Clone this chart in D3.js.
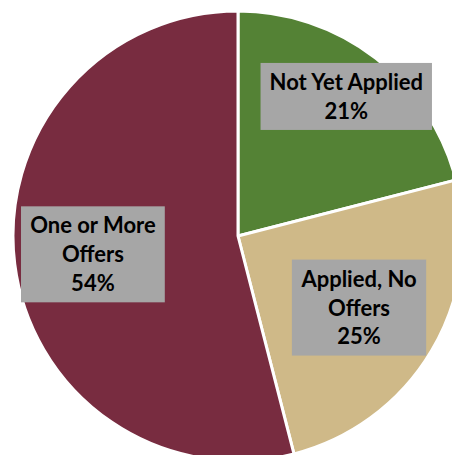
<!DOCTYPE html>
<html>
<head>
<meta charset="utf-8">
<script src="https://cdn.jsdelivr.net/npm/d3@7"></script>
<style>
  body { margin: 0; background: #fff; }
  svg { display: block; }
  .lbl text { font-family: Lato, "Open Sans", sans-serif; font-weight: bold; fill: #000; }
</style>
</head>
<body>
<div id="chart"></div>
<script>
"use strict"

// slice data
var categories = ["Not Yet Applied", "Applied, No Offers", "One or More Offers"];
var values = [21, 25, 54];
var labelLines = [["Not Yet Applied", "21%"], ["Applied, No", "Offers", "25%"], ["One or More", "Offers", "54%"]];

var colors = ["#548235", "#CFB988", "#782C40"];
var labelRadius = [0.785, 0.625, 0.65]; // fraction of radius where each label box sits

var width = 452, height = 455,
  cx = 238, cy = 236, radius = 225;

var svg = d3.select("#chart")
  .append("svg")
    .attr("width", width)
    .attr("height", height);

var g = svg.append("g")
  .attr("transform", "translate(" + cx + "," + cy + ")");

var pie = d3.pie()
  .sort(null)
  .value(d => d);

var arcs = pie(values);

var arc = d3.arc()
  .innerRadius(0)
  .outerRadius(radius);

g.selectAll("path")
  .data(arcs)
  .join("path")
    .attr("d", arc)
    .attr("fill", (d, i) => colors[i])
    .attr("stroke", "#fff")
    .attr("stroke-width", 3)
    .attr("stroke-linejoin", "round");

var fontSize = 22, lineH = 29, padX = 9, padY = 4.5;

var lbl = g.selectAll(".lbl")
  .data(arcs)
  .join("g")
    .attr("class", "lbl")
    .attr("transform", (d, i) => {
      var a = (d.startAngle + d.endAngle) / 2;
      var r = radius * labelRadius[i];
      return "translate(" + (Math.sin(a) * r) + "," + (-Math.cos(a) * r) + ")";
    });

var rects = lbl.append("rect").attr("fill", "#A6A6A6");

var texts = lbl.append("text")
  .attr("text-anchor", "middle")
  .style("font-size", fontSize + "px");

texts.each(function(d, i) {
  var lines = labelLines[i];
  var t = d3.select(this);
  var top = -lines.length * lineH / 2;
  lines.forEach((s, k) => {
    t.append("tspan")
      .attr("x", 0)
      .attr("y", top + lineH * k + lineH / 2)
      .attr("dy", "0.36em")
      .text(s);
  });
});

rects.each(function(d, i) {
  var tw = d3.select(this.parentNode).select("text").node().getBBox().width;
  var h = labelLines[i].length * lineH + padY * 2;
  d3.select(this)
    .attr("x", -tw / 2 - padX)
    .attr("y", -h / 2)
    .attr("width", tw + padX * 2)
    .attr("height", h);
});
</script>
</body>
</html>
